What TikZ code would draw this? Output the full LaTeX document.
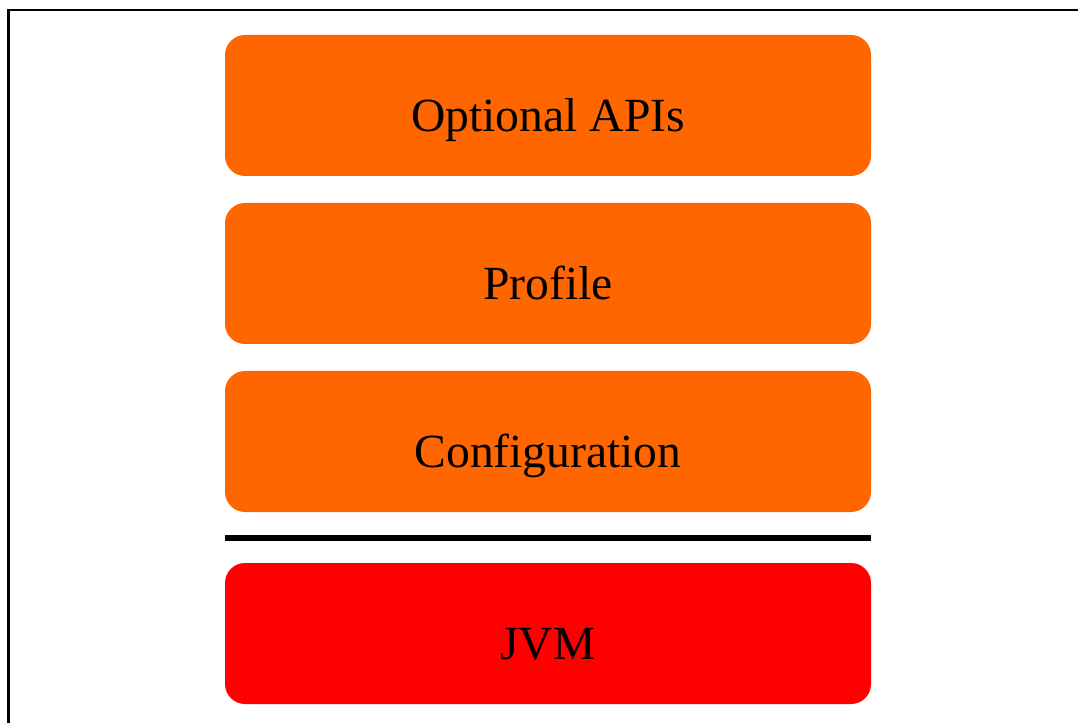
\documentclass[tikz,border=0pt]{standalone}
\usepackage{fontspec}
\setmainfont{Liberation Serif}
\usepackage{tikz}
\definecolor{layerorange}{RGB}{255,102,0}
\definecolor{jvmred}{RGB}{255,0,0}

\begin{document}
\begin{tikzpicture}[x=0.75pt,y=0.75pt,yscale=-1,xscale=1,
  layer/.style={fill=layerorange, rounded corners=15pt, inner sep=0pt,
    minimum width=484.5pt, minimum height=105.75pt,
    text height=39pt, text depth=0pt, font=\fontsize{35.7}{43}\selectfont}]
\useasboundingbox (0,0) rectangle (1078,723);

%Shape: Rectangle [frame]
\draw[line width=1.6pt] (8.5,10) rectangle (1100,750) ;

%Shape: Rounded Rect
\node[layer] (optional) at (548,105.5) {Optional APIs};
%Shape: Rounded Rect
\node[layer] (profile) at (548,273.5) {Profile};
%Shape: Rounded Rect
\node[layer] (config) at (548,441.5) {Configuration};
%Shape: Rounded Rect
\node[layer, fill=jvmred] (jvm) at (548,633.5) {JVM};

%Straight Lines
\draw[line width=4.5pt] (config.west |- 0,538) -- (config.east |- 0,538) ;

\end{tikzpicture}
\end{document}
